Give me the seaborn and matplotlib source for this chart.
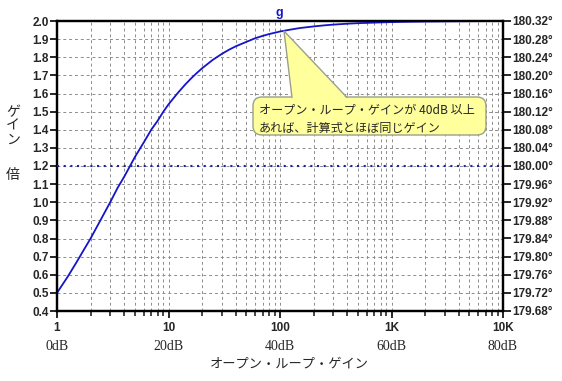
import numpy as np
import pandas as pd
import matplotlib
matplotlib.use("Agg")
import matplotlib.pyplot as plt
import seaborn as sns
from matplotlib.patches import FancyBboxPatch, Polygon
from matplotlib.transforms import Affine2D
from matplotlib.ticker import LogLocator, FixedLocator, NullFormatter

# ---- data ----
open_loop_gain = [1, 1.25, 1.5, 1.75, 2, 2.5, 3, 3.5, 4, 5, 6, 7, 8, 9, 10, 12, 14, 16, 18,
                  20, 25, 30, 35, 40, 50, 60, 70, 80, 100, 120, 150, 200, 250, 300, 400,
                  500, 700, 1000, 1500, 2000, 3000, 5000, 10000]
gain_ratio = [0.50, 0.59, 0.67, 0.74, 0.80, 0.91, 1.00, 1.08, 1.14, 1.25, 1.33, 1.40, 1.45,
              1.50, 1.54, 1.60, 1.647, 1.684, 1.714, 1.739, 1.786, 1.818, 1.842, 1.860,
              1.885, 1.905, 1.918, 1.928, 1.942, 1.951, 1.961, 1.970, 1.976, 1.980, 1.985,
              1.988, 1.991, 1.994, 1.996, 1.997, 1.998, 1.999, 2.0]
phase_x = [1, 10000]
phase_deg = [180.0, 180.0]

x_ticks = [1, 10, 100, 1000, 10000]
x_tick_labels = ["1", "10", "100", "1K", "10K"]
db_labels = ["0dB", "20dB", "40dB", "60dB", "80dB"]
left_ticks = [0.4, 0.5, 0.6, 0.7, 0.8, 0.9, 1.0, 1.1, 1.2, 1.3, 1.4, 1.5, 1.6, 1.7, 1.8, 1.9, 2.0]
right_ticks = [179.68, 179.72, 179.76, 179.80, 179.84, 179.88, 179.92, 179.96, 180.00,
               180.04, 180.08, 180.12, 180.16, 180.20, 180.24, 180.28, 180.32]
callout_lines = ["オープン・ループ・ゲインが 40dB 以上", "あれば、計算式とほぼ同じゲイン"]

sns.set_style("white")
plt.rcParams['font.family'] = ['Liberation Sans', 'Noto Sans CJK JP', 'DejaVu Sans']
JP = ['Noto Sans CJK JP', 'DejaVu Sans']

W, H = 562, 381
fig = plt.figure(figsize=(W / 100, H / 100), dpi=100)
L, R, T, B = 57, 503, 21, 311
ax = fig.add_axes([L / W, 1 - B / H, (R - L) / W, (B - T) / H])
ax.set_xscale('log')

df = pd.DataFrame({"A": open_loop_gain, "G": gain_ratio})
blue = "#1414C8"

ax.set_xlim(1, 10000)
ax.set_ylim(0.4, 2.0)
ax.xaxis.set_major_locator(FixedLocator(x_ticks))
ax.set_xticklabels(x_tick_labels)
ax.xaxis.set_minor_locator(LogLocator(base=10, subs=np.arange(2, 10)))
ax.xaxis.set_minor_formatter(NullFormatter())
ax.set_yticks(left_ticks)
ax.set_yticklabels([f"{v:.1f}" for v in left_ticks])

grid_kw = dict(color="#8c8c8c", linestyle=(0, (3, 3)), linewidth=0.7)
ax.grid(True, which='major', axis='both', **grid_kw)
ax.grid(True, which='minor', axis='x', **grid_kw)
ax.set_axisbelow(True)

sns.lineplot(data=df, x="A", y="G", ax=ax, color=blue, linewidth=1.3, zorder=3)
ax.set_xlim(1, 10000)
ax.set_ylim(0.4, 2.0)

ax2 = ax.twinx()
dfp = pd.DataFrame({"A": phase_x, "P": phase_deg})
sns.lineplot(data=dfp, x="A", y="P", ax=ax2, color="#2020B0",
             linewidth=1.5, linestyle=(0, (1, 2.2)), zorder=3)
ax2.set_ylim(179.68, 180.32)
ax2.set_yticks(right_ticks)
ax2.set_yticklabels([f"{v:.2f}°" for v in right_ticks])
ax2.set_xlim(1, 10000)

for a in (ax, ax2):
    for s in a.spines.values():
        s.set_linewidth(1.6)
        s.set_color("black")
    a.set_xlabel("")
    a.set_ylabel("")

ax.tick_params(axis='y', which='major', direction='out', length=5, width=1.4, pad=1,
               labelsize=8.5, left=True)
ax.tick_params(axis='x', which='major', direction='out', length=5, width=1.4, pad=3,
               labelsize=8.5, bottom=True)
ax.tick_params(axis='x', which='minor', direction='out', length=3.5, width=1.2, bottom=True)
ax2.tick_params(axis='y', which='major', direction='out', length=5.5, width=1.4, pad=1,
                labelsize=8.5, right=True)
for lab in ax.get_xticklabels() + ax.get_yticklabels() + ax2.get_yticklabels():
    lab.set_fontweight('bold')

# dB labels under the tick labels
for xv, lab in zip(x_ticks, db_labels):
    ax.text(xv, -0.124, lab, transform=ax.get_xaxis_transform(), ha='center', va='center',
            fontsize=10, family=['Liberation Serif', 'DejaVu Serif'])

# axis labels
ax.set_xlabel("オープン・ループ・ゲイン", fontsize=9.5, family=JP)
ax.xaxis.set_label_coords(0.522, -0.16)
ax.xaxis.label.set_va('top')

fig.text(13 / W, 1 - 126 / H, "ゲ\nイ\nン", ha='center', va='center', fontsize=10,
         family=JP, linespacing=1.0)
fig.text(13 / W, 1 - 175 / H, "倍", ha='center', va='center', fontsize=10, family=JP)

# cursor label
fig.text(279 / W, 1 - 13 / H, "g", ha='center', va='center', fontsize=9,
         fontweight='bold', color=blue)

# callout
px = Affine2D().scale(1 / W, -1 / H).translate(0, 1) + fig.transFigure
fill = "#FFFF9C"
edge = "#9aa08a"
box = FancyBboxPatch((253, 97), 233, 38, boxstyle="round,pad=0,rounding_size=9",
                     transform=px, facecolor=fill, edgecolor=edge, linewidth=1.0, zorder=10)
fig.patches.append(box)
tri = Polygon([(284, 31), (292, 99), (347, 99)], closed=True, transform=px,
              facecolor=fill, edgecolor='none', zorder=11)
fig.patches.append(tri)
fig.lines.append(plt.Line2D([292, 284, 347], [97.5, 31, 97.5], transform=px,
                            color=edge, linewidth=1.0, zorder=12))
fig.text(259 / W, 1 - 110 / H, callout_lines[0], ha='left', va='center', fontsize=8.7,
         family=JP, zorder=13)
fig.text(259 / W, 1 - 128 / H, callout_lines[1], ha='left', va='center', fontsize=8.7,
         family=JP, zorder=13)

fig.savefig("out.png", dpi=100)
